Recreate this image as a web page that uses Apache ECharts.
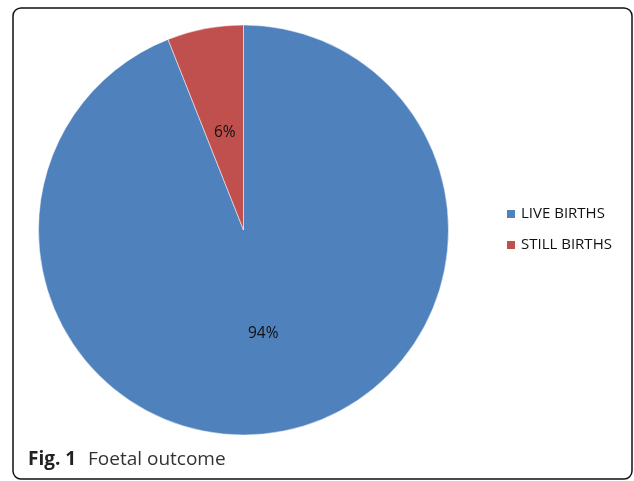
<!DOCTYPE html>
<html>
<head>
<meta charset="utf-8">
<script src="https://cdn.jsdelivr.net/npm/echarts@6/dist/echarts.min.js"></script>
<style>
html,body{margin:0;padding:0;background:#fff;}
#c{width:634px;height:481px;}
</style>
</head>
<body>
<div id="c"></div>
<script>
const categories = ['LIVE BIRTHS', 'STILL BIRTHS'];
const values = [94, 6];
const colors = ['#4F81BD', '#C0504D'];

const chart = echarts.init(document.getElementById('c'), null, {renderer: 'canvas'});
chart.setOption({
  animation: false,
  color: colors,
  legend: {
    orient: 'vertical',
    left: 505,
    top: 206.5,
    padding: 0,
    itemWidth: 10,
    itemHeight: 10,
    itemGap: 16,
    icon: 'rect',
    textStyle: {fontFamily: 'Open Sans', fontSize: 15, color: '#111'},
    data: categories
  },
  graphic: [
    {type: 'rect', shape: {x: 13, y: 8, width: 619, height: 471, r: 8}, style: {fill: 'none', stroke: '#111', lineWidth: 1.5}},
    {type: 'text', left: 28, top: 450, style: {text: 'Fig. 1', font: 'bold 19px "Open Sans"', fill: '#222'}},
    {type: 'text', left: 88, top: 450, style: {text: 'Foetal outcome', font: '19px "Open Sans"', fill: '#333'}}
  ],
  series: [{
    type: 'pie',
    center: [243.5, 230],
    radius: [0, 205],
    startAngle: 90,
    clockwise: true,
    label: {
      position: 'inside',
      formatter: '{d}%',
      fontFamily: 'Open Sans',
      fontSize: 15.5,
      color: '#111'
    },
    labelLine: {show: false},
    itemStyle: {borderColor: '#fff', borderWidth: 0.5},
    emphasis: {disabled: true},
    data: categories.map((n, i) => ({
      name: n,
      value: values[i],
      label: i === 1 ? {offset: [1, 6]} : {}
    }))
  }]
});
</script>
</body>
</html>
